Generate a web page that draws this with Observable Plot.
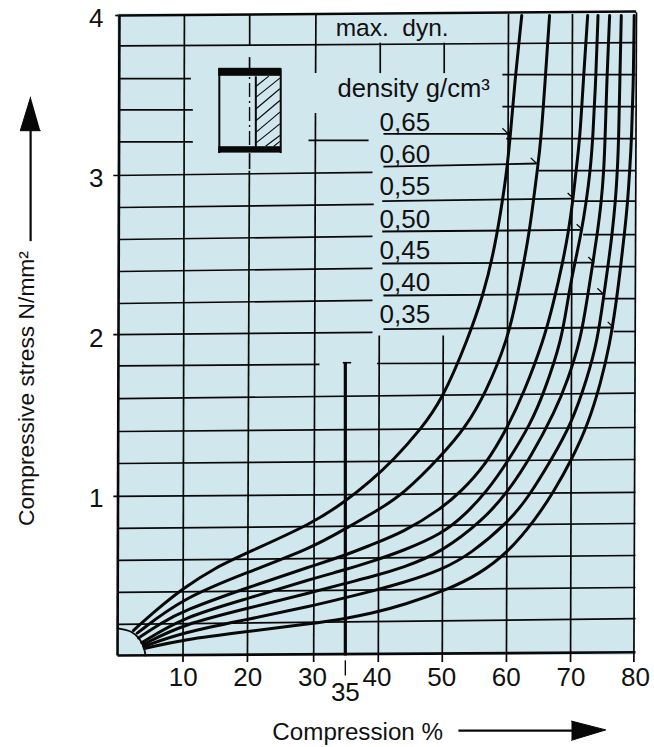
<!DOCTYPE html>
<html>
<head>
<meta charset="utf-8">
<style>html,body{margin:0;padding:0;background:#fff}svg{display:block}</style>
<script src="https://cdn.jsdelivr.net/npm/d3@7"></script>
<script src="https://cdn.jsdelivr.net/npm/@observablehq/plot@0.6"></script>
</head>
<body>
<div id="chart"></div>
<script>
const densityLabels = ["0,65","0,60","0,55","0,50","0,45","0,40","0,35"];
const x65=[2.3,6,10,15,20,30,35,39,42.5,46.7,50.1,54,56.5,58,59.1,60,60.6,61.4,62.4];
const y65=[.156,.29,.42,.55,.644,.825,.96,1.09,1.22,1.41,1.6,1.97,2.26,2.51,2.76,3,3.23,3.62,4];
const x60=[2.9,10,20,30,35,40,44.1,50,53.7,56.8,60.2,61.7,62.8,63.6,64.2,64.8,65.4,66.1,66.7];
const y60=[.14,.36,.52,.675,.79,.905,1.01,1.25,1.425,1.64,1.97,2.25,2.47,2.66,2.84,3.03,3.23,3.64,4];
const x55=[3.1,6.5,10,20,30,35,39,44.1,50,52.9,56.8,60.2,62.7,65.8,67.4,68.7,69.6,70.3,70.8,71.4,72,72.6];
const y55=[.11,.2,.28,.425,.56,.625,.69,.77,.92,1.02,1.19,1.425,1.64,1.97,2.22,2.45,2.64,2.84,3.03,3.23,3.64,4];
const x50=[3.6,10,20,30,35,39,44.1,50,53.4,57.1,60.2,63.8,65.8,68.6,69.6,70.6,71.6,72.4,73,73.4,73.9,74.2];
const y50=[.08,.24,.356,.48,.535,.585,.655,.76,.87,1.03,1.21,1.45,1.64,1.97,2.25,2.45,2.64,2.84,3.03,3.23,3.64,4];
const x45=[3.9,10,20,30,35,39,44.1,50,56.5,60.2,63.8,67.6,69.5,71.5,72.6,73.4,74.1,74.7,75.1,75.3,75.6,76];
const y45=[.07,.195,.295,.395,.45,.49,.55,.645,.85,1.02,1.24,1.53,1.72,1.97,2.25,2.45,2.64,2.83,3.03,3.23,3.64,4];
const x40=[3.9,10,20,30,35,39,44.1,50,54.5,60.2,63.3,67.2,70,72.6,74.1,75,75.8,76.4,76.9,77.2,77.4,77.6,77.8];
const y40=[.056,.145,.225,.31,.36,.4,.455,.535,.635,.83,.98,1.24,1.44,1.74,1.97,2.22,2.45,2.64,2.84,3.03,3.23,3.64,4];
const x35=[4,10,20,30,35,39,44.1,51.4,55.6,60.2,64.5,67.3,70.2,72.6,74.6,76,77,77.7,78.3,78.8,79.1,79.4,79.7,79.8];
const y35=[.044,.1,.15,.2,.23,.262,.315,.42,.505,.64,.85,1.02,1.23,1.44,1.7,1.94,2.2,2.43,2.64,2.84,3.03,3.23,3.64,4];
const curveXs=[x65,x60,x55,x50,x45,x40,x35];
const curveYs=[y65,y60,y55,y50,y45,y40,y35];

const xTicks=[10,20,30,40,50,60,70,80];
const yTicks=[1,2,3,4];

// horizontal grid pieces [x1,y1,x2,y2]
const hGrid=[
 [0,3.81,80,3.83],
 [0,3.606,11.2,3.606],[59.4,3.63,80,3.63],
 [0,3.41,11.5,3.41],[59.4,3.43,80,3.43],
 [0,3.21,11.5,3.21],[29.4,3.22,38.7,3.22],[60,3.23,80,3.23],
 [-.8,3,39.3,3.02],[65,3.03,80,3.03],
 [0,2.8,39.5,2.82],[70.4,2.84,80,2.84],
 [0,2.6,39.3,2.62],[71.9,2.63,80,2.63],
 [0,2.4,39.3,2.42],[73.6,2.43,80,2.43],
 [0,2.2,39.3,2.22],[75,2.23,80,2.23],
 [-.8,2.006,39.3,2.02],[76.6,2.025,80,2.025],
 [0,1.81,31.1,1.82],[40,1.825,80,1.83],
 [0,1.605,80,1.64],[0,1.4,80,1.425],[0,1.2,80,1.225],
 [-.8,.994,80,1.02],[0,.794,80,.825],[0,.594,80,.625],
 [0,.394,80,.425],[0,.194,80,.23],
 [-.5,4,0,4]
];
// leader lines from each density label [x1,y1,x2,y2]
const leaders=[
 [41,3.26,60.3,3.26],[41,3.056,64.7,3.075],[40.8,2.84,70.4,2.856],
 [40.8,2.65,71.8,2.66],[40.8,2.45,73.6,2.456],[41,2.25,75,2.26],[41,2.04,76.6,2.05]
];
const leaderLabelY=[3.28,3.08,2.88,2.675,2.48,2.28,2.08];
// vertical grid pieces [x1,y1,x2,y2]
const vGrid=[
 [9.98,-.04,10.2,4.01],
 [19.95,-.04,20.25,3.03],[20.3,3.81,20.3,4.01],[20.28,3.66,20.28,3.74],[20.28,3.04,20.28,3.14],
 [30.2,-.04,30.48,3.39],[30.5,3.64,30.55,4.01],
 [40.2,-.04,40.35,2],[40.5,3.64,40.5,3.83],
 [50.1,-.04,50.25,2],[50.4,3.64,50.4,3.83],
 [60.03,-.04,60.35,4.01],
 [69.95,-.04,70.25,4.01],
 [79.75,-.04,80.15,4.02]
];
// heavy frame edges [x1,y1,x2,y2]
const frameEdges=[[-.15,0,.15,4],[-.15,0,80,.02],[0,4,80.1,4.025]];
const panel=[{x1:-.15,x2:80,y1:0,y2:4.01}];

// rounded origin
const arcX=[-.15,1.86,3.1,3.87,4.18];
const arcY=[.17,.15,.11,.056,0];

// specimen sketch
const specimenBars=[{x1:15.5,x2:25.2,y1:3.62,y2:3.67},{x1:15.5,x2:25.2,y1:3.14,y2:3.18}];
const specimenSides=[[15.6,3.14,15.6,3.67],[25.1,3.14,25.1,3.67],[21.25,3.18,21.25,3.62]];
const specimenAxis=[[20.28,3.19,20.28,3.62]];
const hatch=[
 [21.3,3.558,23.26,3.621],[21.3,3.49,24.97,3.609],[21.3,3.417,24.97,3.542],
 [21.3,3.344,24.97,3.469],[21.3,3.271,24.97,3.396],[21.3,3.204,24.97,3.323],
 [22.75,3.183,24.97,3.25],[24.03,3.183,24.97,3.213]
];

// the 35 % marker
const marker35=[[35.1,0,35.1,1.83]];
const marker35Tail=[[35.1,-.03,35.1,-.125]];
const marker35Cap=[[34.7,1.83,36,1.83]];

// axis arrows
const upShaft=[[-13.6,2.59,-13.6,3.3]];
const upHeadX=[-13.6,-15.2,-12.1];
const upHeadY=[3.49,3.28,3.28];
const rightShaft=[[52.6,-.47,70.3,-.47]];
const rightHeadX=[70.1,75.4,70.1];
const rightHeadY=[-.41,-.465,-.53];

const seg=a=>a.map(([x1,y1,x2,y2])=>({x1,y1,x2,y2}));
const pts=(xs,ys)=>xs.map((x,i)=>({x,y:ys[i]}));
const ink="#080808";
const link=(a,w,extra={})=>Plot.link(seg(a),{x1:"x1",y1:"y1",x2:"x2",y2:"y2",stroke:ink,strokeWidth:w,...extra});
const label=(text,x,y,size,extra={})=>Plot.text([{text,x,y}],{x:"x",y:"y",text:"text",fontSize:size,lineAnchor:"bottom",textAnchor:"start",fill:"#111",...extra});
const barbs=leaders.map(([,,x2,y2])=>[x2-.9,y2+.035,x2,y2]);

const chart=Plot.plot({
 width:654,height:747,
 marginLeft:118,marginRight:19,marginTop:15,marginBottom:92,
 style:{fontFamily:"'Liberation Sans',Arial,sans-serif",background:"transparent",color:"#111",overflow:"visible"},
 x:{domain:[0,80]},
 y:{domain:[0,4]},
 marks:[
  Plot.rect(panel,{x1:"x1",x2:"x2",y1:"y1",y2:"y2",fill:"#d1e7ee"}),
  link(hGrid,1.7),
  link(leaders,1.8),
  link(barbs,1.3),
  link(vGrid,1.7),
  link(frameEdges,2.6),
  ...curveXs.map((xs,i)=>Plot.line(pts(xs,curveYs[i]),{x:"x",y:"y",curve:"basis",stroke:ink,strokeWidth:3})),
  Plot.line(pts(arcX,arcY),{x:"x",y:"y",curve:"catmull-rom",stroke:ink,strokeWidth:1.8}),
  Plot.rect(specimenBars,{x1:"x1",x2:"x2",y1:"y1",y2:"y2",fill:ink}),
  link(specimenSides,2),
  link(hatch,1.1),
  link(specimenAxis,1.4,{strokeDasharray:"14,4,2,4"}),
  link(marker35,3.2),link(marker35Tail,1.4),link(marker35Cap,1.6),
  link(upShaft,2.2),
  Plot.line(pts(upHeadX,upHeadY),{x:"x",y:"y",fill:ink,stroke:ink,strokeWidth:1}),
  link(rightShaft,2.2),
  Plot.line(pts(rightHeadX,rightHeadY),{x:"x",y:"y",fill:ink,stroke:ink,strokeWidth:1}),
  Plot.axisX({ticks:xTicks,tickSize:0,tickPadding:12,fontSize:26,label:null,tickFormat:d=>d}),
  Plot.axisY({ticks:yTicks,tickSize:0,tickPadding:15,fontSize:26,label:null,tickFormat:d=>d,dy:3}),
  label("35",35.1,-.285,26,{textAnchor:"middle"}),
  label("max.\u00a0\u00a0dyn.",33.6,3.875,24.5),
  label("density g/cm³",33.9,3.49,25.6),
  ...densityLabels.map((t,i)=>label(t,40.4,leaderLabelY[i],26)),
  label("Compression %",23.8,-.53,24.2),
  label("Compressive stress N/mm²",-13.1,.81,22.8,{rotate:-90})
 ]
});
document.getElementById("chart").appendChild(chart);
</script>
</body>
</html>
